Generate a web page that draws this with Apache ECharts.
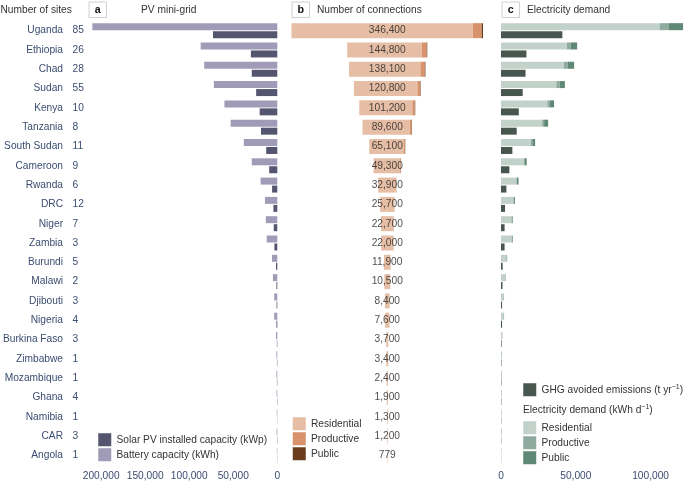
<!DOCTYPE html>
<html><head><meta charset="utf-8">
<script src="https://cdn.jsdelivr.net/npm/echarts@6/dist/echarts.min.js"></script>
<style>html,body{margin:0;padding:0;background:#fff}#c{width:685px;height:483px}</style>
</head><body><div id="c"></div>
<script>
const countries = ['Uganda','Ethiopia','Chad','Sudan','Kenya','Tanzania','South Sudan','Cameroon','Rwanda','DRC','Niger','Zambia','Burundi','Malawi','Djibouti','Nigeria','Burkina Faso','Zimbabwe','Mozambique','Ghana','Namibia','CAR','Angola'];
const sites = [85,26,28,55,10,8,11,9,6,12,7,3,5,2,3,4,3,1,1,4,1,3,1];
// Panel a: PV mini-grid
const batteryKWh = [210000,87000,83000,72000,60000,53000,38000,29000,19000,14000,13000,12000,6000,5000,3500,3500,1500,1000,1000,800,600,800,500];
const pvKWp = [73000,30000,29000,24000,20000,18500,12600,9200,5900,4400,4000,3300,1500,1000,800,1000,500,400,400,300,200,300,200];
// Panel b: number of connections
const connTotal = [346400,144800,138100,120800,101200,89600,65100,49300,32900,25700,22700,22000,11900,10500,8400,7600,3700,3400,2400,1900,1300,1200,779];
const connResidential = [328000,134800,129000,115000,96000,85500,62200,47500,31700,24850,21950,21400,11520,10130,8150,7350,3570,3270,2300,1820,1250,1150,754];
const connProductive = [16000,9000,8000,5000,4500,3500,2500,1500,1000,700,600,500,300,300,200,200,100,100,80,60,40,40,20];
const connPublic = [2400,1000,1100,800,700,600,400,300,200,150,150,100,80,70,50,50,30,30,20,20,10,10,5];
// Panel c: electricity demand (kWh/d) and GHG avoided (t/yr)
const demResidential = [106000,44000,42000,37000,31000,27500,20000,15200,10300,8300,7000,7100,3700,2800,1800,1800,800,600,600,500,400,500,300];
const demProductive = [6300,2700,2700,2300,1600,1300,1000,500,300,200,200,200,100,100,80,80,50,30,30,20,20,20,10];
const demPublic = [9400,4200,4200,3400,2900,2700,1800,1500,1100,800,600,500,300,250,150,150,80,60,50,40,40,40,30];
const ghgAvoided = [41000,17000,16400,14500,11900,10500,7600,5600,3600,2700,2400,2400,1100,1000,700,700,400,300,300,250,200,200,100];

const FONT = "'Liberation Sans', Arial, sans-serif";
const FS = 10.2;
const BLUE = '#3b4d70';
const DARK = '#333333';
const C = {
  battery:'#a09cb7', pv:'#54556f',
  cRes:'#e6bea5', cProd:'#d8936c', cPub:'#6b3d1e',
  dRes:'#c2d1c9', dProd:'#8fab9f', dPub:'#5f8876', ghg:'#47574f'
};
const fmt = v => Number(v).toLocaleString('en-US');
const connMax = Math.max(...connTotal);

const chart = echarts.init(document.getElementById('c'), null, {renderer:'canvas'});
const gridTop = 21, gridH = 444;
const catAxis = (grid, data, extra) => Object.assign({
  type:'category', gridIndex:grid, data:data, inverse:true,
  axisLine:{show:false}, axisTick:{show:false}, splitLine:{show:false}
}, extra);
const valLabel = {color:BLUE, fontSize:FS, fontFamily:FONT, margin:6, showMaxLabel:false, formatter:fmt};

const legendItems = [
  {x:98, y:440, color:C.pv, text:'Solar PV installed capacity (kWp)'},
  {x:98, y:455, color:C.battery, text:'Battery capacity (kWh)'},
  {x:292.5, y:424, color:C.cRes, text:'Residential'},
  {x:292.5, y:439, color:C.cProd, text:'Productive'},
  {x:292.5, y:454, color:C.cPub, text:'Public'},
  {x:523, y:390, color:C.ghg, text:'{a|GHG avoided emissions (t yr}{s|\u22121}{a|)}'},
  {x:523, y:428, color:C.dRes, text:'Residential'},
  {x:523, y:443, color:C.dProd, text:'Productive'},
  {x:523, y:458, color:C.dPub, text:'Public'}
];
const rich = {a:{fontSize:FS, fontFamily:FONT, fill:DARK, lineHeight:12}, s:{fontSize:7, fontFamily:FONT, fill:DARK, verticalAlign:'top', lineHeight:12}};
const graphics = [];
legendItems.forEach(it => {
  graphics.push({type:'rect', shape:{x:it.x, y:it.y-7, width:13.5, height:13.5}, style:{fill:it.color, stroke:'#ffffff', lineWidth:0.5}, silent:true});
  graphics.push({type:'text', x:it.x+18.5, y:it.y, style:{text:it.text, rich:rich, font:FS+'px '+FONT, fill:DARK, verticalAlign:'middle'}, silent:true});
});
graphics.push({type:'text', x:523, y:410, style:{text:'{a|Electricity demand (kWh d}{s|\u22121}{a|)}', rich:rich, verticalAlign:'middle'}, silent:true});
// headers
graphics.push({type:'text', x:0.5, y:10, style:{text:'Number of sites', font:FS+'px '+FONT, fill:DARK, verticalAlign:'middle'}});
[[89,'a',141,'PV mini-grid'],[292,'b',317,'Number of connections'],[502,'c',527,'Electricity demand']].forEach(h => {
  graphics.push({type:'rect', shape:{x:h[0], y:2, width:17.5, height:15.5}, style:{fill:'#fff', stroke:'#d0d0d0', lineWidth:1}});
  graphics.push({type:'text', x:h[0]+8.75, y:10, style:{text:h[1], font:'bold '+(FS+0.5)+'px '+FONT, fill:'#111', align:'center', verticalAlign:'middle'}});
  graphics.push({type:'text', x:h[2], y:10, style:{text:h[3], font:FS+'px '+FONT, fill:DARK, verticalAlign:'middle'}});
});

const barBase = {type:'bar', silent:true, emphasis:{disabled:true}, animation:false};

chart.setOption({
  animation:false,
  textStyle:{fontFamily:FONT},
  grid:[
    {left:79.3, top:gridTop, width:198, height:gridH},
    {left:291.5, top:gridTop, width:191.5, height:gridH},
    {left:501, top:gridTop, width:184, height:gridH}
  ],
  xAxis:[
    {type:'value', gridIndex:0, min:0, max:220000, interval:50000, inverse:true, axisLine:{show:false}, axisTick:{show:false}, splitLine:{show:false}, axisLabel:valLabel},
    {type:'value', gridIndex:1, min:0, max:connMax, show:false},
    {type:'value', gridIndex:2, min:0, max:123000, interval:50000, axisLine:{show:false}, axisTick:{show:false}, splitLine:{show:false}, axisLabel:valLabel}
  ],
  yAxis:[
    catAxis(0, countries, {position:'left', axisLabel:{interval:0, margin:20.5, color:BLUE, fontSize:FS, fontFamily:FONT, padding:[0,0,5,0]}}),
    catAxis(0, sites.map(String), {position:'left', axisLabel:{interval:0, margin:11, align:'left', color:BLUE, fontSize:FS, fontFamily:FONT, padding:[0,0,5,0]}}),
    catAxis(1, countries, {show:false}),
    catAxis(2, countries, {show:false})
  ],
  series:[
    Object.assign({}, barBase, {name:'Battery', xAxisIndex:0, yAxisIndex:0, data:batteryKWh, barWidth:7, barGap:'14%', itemStyle:{color:C.battery}}),
    Object.assign({}, barBase, {name:'PV', xAxisIndex:0, yAxisIndex:0, data:pvKWp, barWidth:7, barGap:'14%', itemStyle:{color:C.pv}}),
    Object.assign({}, barBase, {name:'pad', xAxisIndex:1, yAxisIndex:2, stack:'conn', data:connTotal.map(t => (connMax - t)/2), barWidth:15, itemStyle:{color:'transparent'}}),
    Object.assign({}, barBase, {name:'cRes', xAxisIndex:1, yAxisIndex:2, stack:'conn', data:connResidential, barWidth:15, itemStyle:{color:C.cRes}}),
    Object.assign({}, barBase, {name:'cProd', xAxisIndex:1, yAxisIndex:2, stack:'conn', data:connProductive, barWidth:15, itemStyle:{color:C.cProd}}),
    Object.assign({}, barBase, {name:'cPub', xAxisIndex:1, yAxisIndex:2, stack:'conn', data:connPublic, barWidth:15, itemStyle:{color:C.cPub}}),
    {type:'scatter', xAxisIndex:1, yAxisIndex:2, silent:true, symbolSize:1, itemStyle:{color:'transparent'},
     data:connTotal.map((t,i) => [connMax/2, i]),
     label:{show:true, position:'inside', color:'#222', fontSize:FS, fontFamily:FONT, formatter:p => fmt(connTotal[p.dataIndex])}},
    Object.assign({}, barBase, {name:'dRes', xAxisIndex:2, yAxisIndex:3, stack:'dem', data:demResidential, barWidth:7, barGap:'14%', itemStyle:{color:C.dRes}}),
    Object.assign({}, barBase, {name:'dProd', xAxisIndex:2, yAxisIndex:3, stack:'dem', data:demProductive, barWidth:7, barGap:'14%', itemStyle:{color:C.dProd}}),
    Object.assign({}, barBase, {name:'dPub', xAxisIndex:2, yAxisIndex:3, stack:'dem', data:demPublic, barWidth:7, barGap:'14%', itemStyle:{color:C.dPub}}),
    Object.assign({}, barBase, {name:'ghg', xAxisIndex:2, yAxisIndex:3, data:ghgAvoided, barWidth:7, barGap:'14%', itemStyle:{color:C.ghg}})
  ],
  graphic:graphics
});
</script></body></html>
